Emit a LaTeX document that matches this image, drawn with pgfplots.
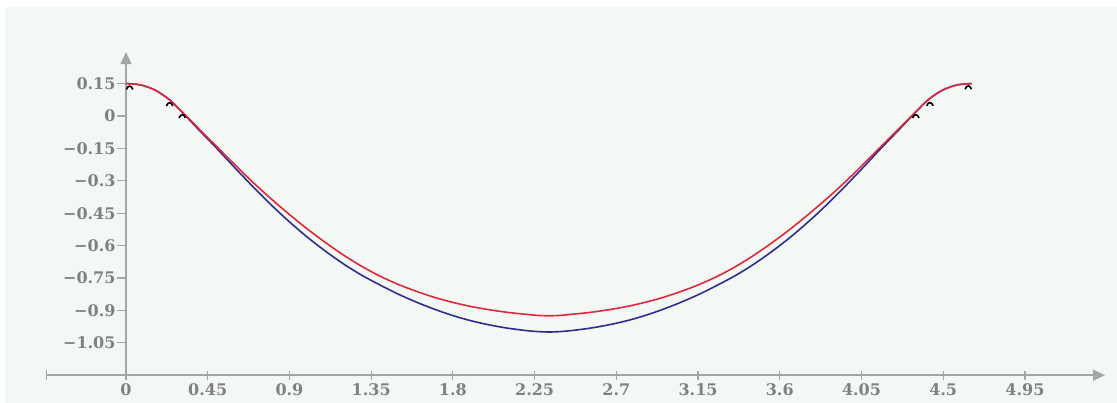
\documentclass[border=0pt]{standalone}
\usepackage{fontspec}
\setmainfont{DejaVu Serif}
\usepackage{pgfplots}
\pgfplotsset{compat=1.18}
\usetikzlibrary{arrows.meta}
\definecolor{bgmint}{HTML}{F3F8F5}
\definecolor{axgray}{HTML}{A5A5A5}
\definecolor{lblgray}{HTML}{808080}
\definecolor{cblue}{HTML}{2E2E8E}
\definecolor{cred}{HTML}{E0283C}
\pgfdeclareplotmark{caret}{%
  \pgfpathmoveto{\pgfpoint{-3.2bp}{-2.6bp}}%
  \pgfpathcurveto{\pgfpoint{-1.8bp}{1.8bp}}{\pgfpoint{1.8bp}{1.8bp}}{\pgfpoint{3.2bp}{-2.6bp}}%
  \pgfusepathqstroke}
\begin{document}
\begin{tikzpicture}
\fill[white] (-126bp,-287bp) rectangle (991bp,116bp);
\fill[bgmint] (-121bp,-287bp) rectangle (991bp,109bp);
\begin{axis}[
  at={(0,0)}, anchor=origin,
  x=181.6bp, y=216bp,
  xmin=-0.44, xmax=5.391, ymin=-1.2, ymax=0.296,
  axis x line=bottom, axis y line=middle,
  hide obscured x ticks=false, hide obscured y ticks=false,
  axis line style={axgray, line width=1.6bp},
  x axis line style={{Bar[width=10bp,line width=1.2bp]}-{Triangle[length=12bp,width=11bp]}},
  y axis line style={-{Triangle[length=12bp,width=11bp]}},
  xtick={0,0.45,0.9,1.35,1.8,2.25,2.7,3.15,3.6,4.05,4.5,4.95},
  xticklabels={0,0.45,0.9,1.35,1.8,2.25,2.7,3.15,3.6,4.05,4.5,4.95},
  ytick={0.15,0,-0.15,-0.3,-0.45,-0.6,-0.75,-0.9,-1.05},
  yticklabels={0.15,0,−0.15,−0.3,−0.45,−0.6,−0.75,−0.9,−1.05},
  x tick style={axgray, line width=1.2bp},
  y tick style={axgray, line width=1.2bp},
  xtick align=center, ytick align=outside,
  major tick length=9bp,
  ticklabel style={font=\fontsize{16bp}{18bp}\selectfont\bfseries, text=lblgray},
  xticklabel style={yshift=-0.5bp},
  yticklabel style={xshift=2bp},
  clip=false,
]
\addplot[cblue, line width=1.6bp, smooth] coordinates {
(0,0.150)(0.08,0.144)(0.16,0.120)(0.24,0.075)(0.32,0.008)(0.40,-0.063)(0.50,-0.150)
(0.60,-0.240)(0.70,-0.328)(0.80,-0.412)(0.90,-0.490)(1.00,-0.562)(1.10,-0.627)
(1.20,-0.686)(1.30,-0.738)(1.40,-0.783)(1.50,-0.825)(1.60,-0.862)(1.70,-0.895)
(1.80,-0.924)(1.90,-0.948)(2.00,-0.967)(2.10,-0.982)(2.20,-0.993)(2.265,-0.998)(2.3285,-1.000)
(2.392,-0.998)(2.457,-0.993)(2.557,-0.982)(2.657,-0.967)(2.757,-0.948)(2.857,-0.924)(2.957,-0.895)
(3.057,-0.862)(3.157,-0.825)(3.257,-0.783)(3.357,-0.738)(3.457,-0.686)(3.557,-0.627)
(3.657,-0.562)(3.757,-0.490)(3.857,-0.412)(3.957,-0.328)(4.057,-0.240)(4.157,-0.150)
(4.257,-0.063)(4.337,0.008)(4.417,0.075)(4.497,0.120)(4.577,0.144)(4.657,0.150)};
\addplot[cred, line width=1.6bp, smooth] coordinates {
(0,0.150)(0.08,0.144)(0.16,0.120)(0.24,0.075)(0.32,0.010)(0.40,-0.058)(0.50,-0.142)
(0.60,-0.226)(0.70,-0.308)(0.80,-0.384)(0.90,-0.456)(1.00,-0.524)(1.10,-0.587)
(1.20,-0.645)(1.30,-0.697)(1.40,-0.742)(1.50,-0.780)(1.60,-0.812)(1.70,-0.840)
(1.80,-0.863)(1.90,-0.882)(2.00,-0.897)(2.10,-0.909)(2.20,-0.918)(2.265,-0.923)(2.3285,-0.925)
(2.392,-0.923)(2.457,-0.918)(2.557,-0.909)(2.657,-0.897)(2.757,-0.882)(2.857,-0.863)(2.957,-0.840)
(3.057,-0.812)(3.157,-0.780)(3.257,-0.742)(3.357,-0.697)(3.457,-0.645)(3.557,-0.587)
(3.657,-0.524)(3.757,-0.456)(3.857,-0.384)(3.957,-0.308)(4.057,-0.226)(4.157,-0.142)
(4.257,-0.058)(4.337,0.010)(4.417,0.075)(4.497,0.120)(4.577,0.144)(4.657,0.150)};
\addplot[only marks, mark=caret, mark options={black, line width=1.6bp}] coordinates {
(0.02,0.135)(0.24,0.058)(0.31,0.003)(4.349,0.003)(4.427,0.059)(4.638,0.136)};
\end{axis}
\pgfresetboundingbox
\useasboundingbox (-126bp,-287bp) rectangle (991bp,116bp);
\end{tikzpicture}
\end{document}
